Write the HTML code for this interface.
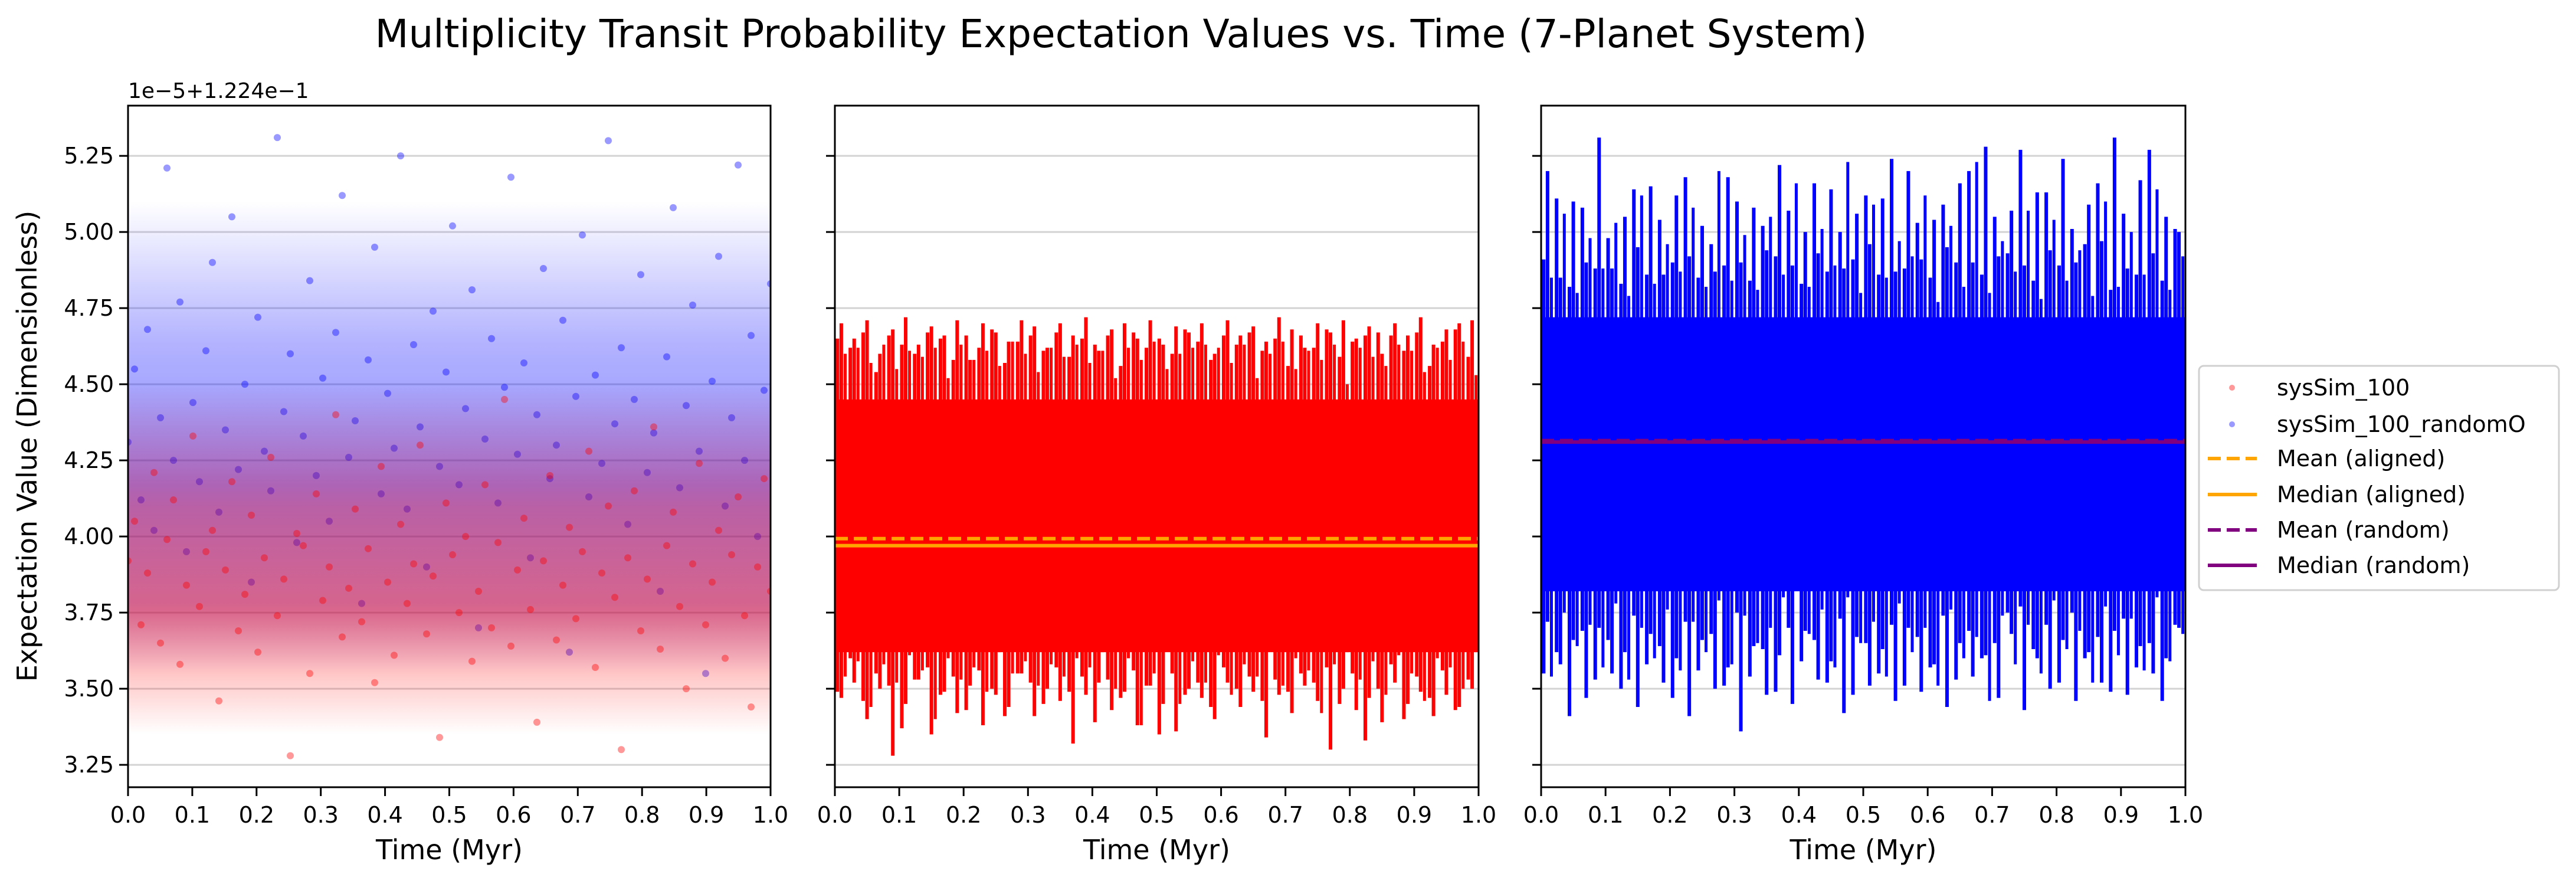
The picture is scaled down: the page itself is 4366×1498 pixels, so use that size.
<!DOCTYPE html>
<html><head><meta charset="utf-8">
<style>
html,body{margin:0;padding:0;background:#fff;}
svg{display:block;font-family:"DejaVu Sans","Liberation Sans",sans-serif;}
</style></head>
<body>
<svg id="chart" width="4366" height="1498" viewBox="0 0 4366 1498" xmlns="http://www.w3.org/2000/svg">
<defs>
<linearGradient id="gBlue" x1="0" y1="0" x2="0" y2="1">
<stop offset="0" stop-color="blue" stop-opacity="0"/>
<stop offset="0.3" stop-color="blue" stop-opacity="0.3"/>
<stop offset="0.6" stop-color="blue" stop-opacity="0.45"/>
<stop offset="0.85" stop-color="blue" stop-opacity="0.3"/>
<stop offset="1" stop-color="blue" stop-opacity="0"/>
</linearGradient>
<linearGradient id="gRed" x1="0" y1="0" x2="0" y2="1">
<stop offset="0" stop-color="red" stop-opacity="0"/>
<stop offset="0.35" stop-color="red" stop-opacity="0.35"/>
<stop offset="0.65" stop-color="red" stop-opacity="0.45"/>
<stop offset="1" stop-color="red" stop-opacity="0"/>
</linearGradient>
</defs>
<rect width="4366" height="1498" fill="#fff"/>
<text x="1900" y="80" font-size="66" text-anchor="middle">Multiplicity Transit Probability Expectation Values vs. Time (7-Planet System)</text>
<text x="217" y="166" font-size="36">1e−5+1.224e−1</text>
<text transform="translate(62,756) rotate(-90)" font-size="46" text-anchor="middle">Expectation Value (Dimensionless)</text>
<g id="plots"></g>
<g>
<rect x="3727" y="620" width="610" height="380" rx="8" fill="#fff" stroke="#d0d0d0" stroke-width="3"/>
<circle cx="3783" cy="657" r="5" fill="red" fill-opacity="0.4"/>
<text x="3859" y="670" font-size="38">sysSim_100</text>
<circle cx="3783" cy="719" r="5" fill="blue" fill-opacity="0.4"/>
<text x="3859" y="732" font-size="38">sysSim_100_randomO</text>
<line x1="3742" y1="777" x2="3825" y2="777" stroke="orange" stroke-width="6" stroke-dasharray="22,10"/>
<text x="3859" y="790" font-size="38">Mean (aligned)</text>
<line x1="3742" y1="838" x2="3825" y2="838" stroke="orange" stroke-width="6"/>
<text x="3859" y="851" font-size="38">Median (aligned)</text>
<line x1="3742" y1="898" x2="3825" y2="898" stroke="purple" stroke-width="6" stroke-dasharray="22,10"/>
<text x="3859" y="911" font-size="38">Mean (random)</text>
<line x1="3742" y1="958" x2="3825" y2="958" stroke="purple" stroke-width="6"/>
<text x="3859" y="971" font-size="38">Median (random)</text>
</g>
</svg>
<script>
const xTicks = [0,0.1,0.2,0.3,0.4,0.5,0.6,0.7,0.8,0.9,1.0];
const yTicks = [3.25,3.5,3.75,4.0,4.25,4.5,4.75,5.0,5.25];
const redScatter = [3.92,4.05,3.71,3.88,4.21,3.65,3.99,4.12,3.58,3.84,4.33,3.77,3.95,4.02,3.46,3.89,4.18,3.69,3.81,4.07,3.62,3.93,4.26,3.74,3.86,3.28,4.01,3.97,3.55,4.14,3.79,3.90,4.40,3.67,3.83,4.09,3.72,3.96,3.52,4.23,3.85,3.61,4.04,3.78,3.91,4.30,3.68,3.87,3.34,4.11,3.94,3.75,4.00,3.59,3.82,4.17,3.70,3.98,4.45,3.64,3.89,4.06,3.76,3.39,3.92,4.20,3.66,3.84,4.03,3.73,3.95,4.28,3.57,3.88,4.10,3.80,3.30,3.93,4.15,3.69,3.86,4.36,3.63,3.97,4.08,3.77,3.50,3.91,4.24,3.71,3.85,4.02,3.60,3.94,4.13,3.74,3.44,3.90,4.19,3.82];
const blueScatter = [4.31,4.55,4.12,4.68,4.02,4.39,5.21,4.25,4.77,3.95,4.44,4.18,4.61,4.90,4.08,4.35,5.05,4.22,4.50,3.85,4.72,4.28,4.15,5.31,4.41,4.60,3.98,4.33,4.84,4.20,4.52,4.05,4.67,5.12,4.26,4.38,3.78,4.58,4.95,4.14,4.47,4.29,5.25,4.09,4.63,4.36,3.90,4.74,4.23,4.54,5.02,4.17,4.42,4.81,3.70,4.32,4.65,4.11,4.49,5.18,4.27,4.57,3.93,4.40,4.88,4.19,4.30,4.71,3.62,4.46,4.99,4.13,4.53,4.24,5.30,4.37,4.62,4.04,4.45,4.86,4.21,4.34,3.82,4.59,5.08,4.16,4.43,4.76,4.28,3.55,4.51,4.92,4.10,4.39,5.22,4.25,4.66,4.00,4.48,4.83];
const redMax = [4.70,4.65,4.71,4.60,4.68,4.72,4.63,4.69,4.66,4.71,4.58,4.70,4.67,4.64,4.71,4.69,4.62,4.70,4.66,4.72,4.61,4.68,4.70,4.65,4.71,4.63,4.69,4.67,4.70,4.60,4.71,4.66,4.69,4.64,4.72,4.68,4.62,4.70,4.67,4.71,4.65,4.69,4.60,4.70,4.66,4.72,4.63,4.68,4.70,4.71];
const redMin = [3.47,3.52,3.40,3.50,3.28,3.45,3.53,3.35,3.49,3.42,3.51,3.38,3.48,3.44,3.55,3.41,3.50,3.46,3.32,3.48,3.52,3.43,3.49,3.38,3.51,3.45,3.36,3.50,3.47,3.40,3.52,3.44,3.49,3.34,3.48,3.42,3.51,3.46,3.30,3.50,3.43,3.47,3.39,3.52,3.45,3.49,3.41,3.48,3.44,3.50];
const redCore = [3.62,4.45];
const blueMax = [5.20,4.85,5.10,4.90,5.31,4.88,5.05,4.95,5.15,4.86,5.12,4.92,5.02,4.87,5.18,4.90,5.08,4.94,5.22,4.89,5.00,4.93,5.14,4.88,5.06,4.96,5.11,4.87,5.20,4.91,5.04,4.95,5.16,4.90,5.28,4.92,5.07,4.89,5.13,4.94,5.24,4.90,5.09,4.97,5.31,4.88,5.17,4.93,5.05,5.00];
const blueMin = [3.72,3.58,3.66,3.47,3.70,3.55,3.62,3.44,3.68,3.52,3.60,3.41,3.66,3.50,3.57,3.36,3.64,3.48,3.61,3.45,3.69,3.53,3.59,3.42,3.67,3.51,3.63,3.46,3.70,3.49,3.58,3.44,3.65,3.54,3.61,3.47,3.68,3.43,3.60,3.50,3.66,3.46,3.62,3.52,3.69,3.48,3.64,3.55,3.60,3.70];
const blueCore = [3.82,4.72];
const meanAligned = [3.993];
const medianAligned = [3.970];
const meanRandom = [4.315];
const medianRandom = [4.310];

const NS='http://www.w3.org/2000/svg';
const Y0=179, Y1=1334, VMIN=3.1765, VMAX=5.415;
const panels=[{x0:217,x1:1306},{x0:1415,x1:2506},{x0:2612,x1:3704}];
function yScale(v){return Y1-(v-VMIN)/(VMAX-VMIN)*(Y1-Y0);}
function xScale(p,t){return p.x0+t*(p.x1-p.x0);}
const root=document.getElementById('plots');
function mk(tag,attrs,parent){const e=document.createElementNS(NS,tag);for(const k in attrs)e.setAttribute(k,attrs[k]);(parent||root).appendChild(e);return e;}

panels.forEach((p,pi)=>{
  const g=mk('g',{});
  
  
  const clipId='clip'+pi;
  const cp=mk('clipPath',{id:clipId},g);
  mk('rect',{x:p.x0,y:Y0,width:p.x1-p.x0,height:Y1-Y0},cp);
  yTicks.forEach(v=>{
    const gl=mk('line',{x1:p.x0,x2:p.x1,y1:yScale(v),y2:yScale(v),stroke:'#d3d3d3','stroke-width':3},g);
    
    
  });
  const d=mk('g',{'clip-path':'url(#'+clipId+')'},g);
  if(pi===0){
    const bb=mk('rect',{x:p.x0,width:p.x1-p.x0,y:yScale(5.1),height:yScale(3.55)-yScale(5.1),fill:'url(#gBlue)'},d);
    
    
    blueScatter.forEach((v,i)=>{
      const c=mk('circle',{cx:xScale(p,i/(blueScatter.length-1)),cy:yScale(v),r:6,fill:'blue','fill-opacity':0.4},d);
      
      
    });
    const rb=mk('rect',{x:p.x0,width:p.x1-p.x0,y:yScale(4.5),height:yScale(3.35)-yScale(4.5),fill:'url(#gRed)'},d);
    
    
    redScatter.forEach((v,i)=>{
      const c=mk('circle',{cx:xScale(p,i/(redScatter.length-1)),cy:yScale(v),r:6,fill:'red','fill-opacity':0.4},d);
      
      
    });
  } else {
    const mx=pi===1?redMax:blueMax, mn=pi===1?redMin:blueMin, core=pi===1?redCore:blueCore, col=pi===1?'red':'blue';
    const cr=mk('rect',{x:p.x0,width:p.x1-p.x0,y:yScale(core[1]),height:yScale(core[0])-yScale(core[1]),fill:col},d);
    
    
    const m=mx.length;
    for(let i=0;i<m;i++){
      const x=xScale(p,(i+0.5)/m);
      const l=mk('line',{x1:x,x2:x,y1:yScale(mx[i]),y2:yScale(mn[i]),stroke:col,'stroke-width':6},d);
      
      
      const x2=xScale(p,(i+0.2)/m);
      const l2=mk('line',{x1:x2,x2:x2,y1:yScale(mx[(i+7)%m]-0.04),y2:yScale(mn[(i+13)%m]+0.05),stroke:col,'stroke-width':6},d);
      
      
      const x3=xScale(p,(i+0.8)/m);
      const l3=mk('line',{x1:x3,x2:x3,y1:yScale(mx[(i+21)%m]-0.08),y2:yScale(mn[(i+31)%m]+0.1),stroke:col,'stroke-width':5},d);
      
      
    }
    if(pi===1){
      const a=mk('line',{x1:p.x0,x2:p.x1,y1:yScale(meanAligned[0]),y2:yScale(meanAligned[0]),stroke:'orange','stroke-width':6,'stroke-dasharray':'22,10'},d);
      
      
      const b=mk('line',{x1:p.x0,x2:p.x1,y1:yScale(medianAligned[0]),y2:yScale(medianAligned[0]),stroke:'orange','stroke-width':6},d);
      
      
    } else {
      const a=mk('line',{x1:p.x0,x2:p.x1,y1:yScale(meanRandom[0]),y2:yScale(meanRandom[0]),stroke:'purple','stroke-width':6,'stroke-dasharray':'22,10'},d);
      
      
      const b=mk('line',{x1:p.x0,x2:p.x1,y1:yScale(medianRandom[0]),y2:yScale(medianRandom[0]),stroke:'purple','stroke-width':6},d);
      
      
    }
  }
  const fr=mk('rect',{x:p.x0,y:Y0,width:p.x1-p.x0,height:Y1-Y0,fill:'none',stroke:'#000','stroke-width':3},g);
  
  
  xTicks.forEach(t=>{
    const x=xScale(p,t);
    mk('line',{x1:x,x2:x,y1:Y1,y2:Y1+15,stroke:'#000','stroke-width':3},g);
    const tx=mk('text',{x:x,y:Y1+60,'font-size':38,'text-anchor':'middle'},g);
    tx.textContent=t.toFixed(1);
    
    
  });
  yTicks.forEach(v=>{
    const y=yScale(v);
    mk('line',{x1:p.x0-15,x2:p.x0,y1:y,y2:y,stroke:'#000','stroke-width':3},g);
    if(pi===0){
      const ty=mk('text',{x:p.x0-24,y:y+13,'font-size':38,'text-anchor':'end'},g);
      ty.textContent=v.toFixed(2);
      
      
    }
  });
  const xl=mk('text',{x:(p.x0+p.x1)/2,y:1456,'font-size':46,'text-anchor':'middle'},g);
  xl.textContent='Time (Myr)';
  
  
});
</script>
</body></html>
